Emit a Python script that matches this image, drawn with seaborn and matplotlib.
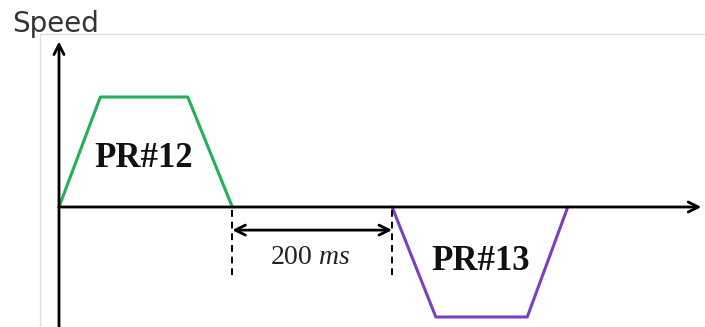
import numpy as np
import pandas as pd
import matplotlib
matplotlib.use("Agg")
import matplotlib.pyplot as plt
import seaborn as sns
from matplotlib.lines import Line2D

# profile data (time in ms, normalised speed)
pr12_time = [0, 52, 162, 218]
pr12_speed = [0, 1, 1, 0]
pr13_time = [419, 474, 589, 640]
pr13_speed = [0, -1, -1, 0]
gap_label = "200"
labels = ["PR#12", "PR#13"]

df = pd.concat([
    pd.DataFrame({"t": pr12_time, "v": pr12_speed, "move": labels[0]}),
    pd.DataFrame({"t": pr13_time, "v": pr13_speed, "move": labels[1]}),
])

sns.set_style("white")
plt.rcParams["mathtext.fontset"] = "custom"
plt.rcParams["mathtext.rm"] = "Liberation Serif"
plt.rcParams["mathtext.it"] = "Liberation Serif:italic"

fig = plt.figure(figsize=(7.05, 3.27), dpi=100)
ax = fig.add_axes([0, 0, 1, 1])

sns.lineplot(data=df, x="t", y="v", hue="move", sort=False, estimator=None,
             palette={labels[0]: "#22b05a", labels[1]: "#7b3fc4"},
             linewidth=2.2, legend=False, ax=ax)

ax.set_xlim(-74.2, 812.6)
ax.set_ylim(-1.091, 1.882)
ax.axis("off")

# axes arrows
ax.annotate("", xy=(808, 0), xytext=(0, 0), annotation_clip=False,
            arrowprops=dict(arrowstyle="->", lw=2.0, color="black",
                            mutation_scale=18, shrinkA=0, shrinkB=0))
ax.annotate("", xy=(0, 1.505), xytext=(0, -1.2), annotation_clip=False,
            arrowprops=dict(arrowstyle="->", lw=2.0, color="black",
                            mutation_scale=18, shrinkA=0, shrinkB=0))

# 200 ms gap
t0, t1 = pr12_time[-1], pr13_time[0]
for t in (t0, t1):
    ax.plot([t, t], [-0.03, -0.66], color="black", lw=1.4, ls=(0, (3.5, 2.5)))
ax.annotate("", xy=(t1, -0.21), xytext=(t0, -0.21),
            arrowprops=dict(arrowstyle="<->", lw=2.0, color="black",
                            mutation_scale=18, shrinkA=0, shrinkB=0))
ax.text((t0 + t1) / 2 - 2, -0.46, gap_label + r" $\mathit{ms}$", ha="center", va="center",
        fontsize=20, family="Liberation Serif", color="#222222")

# labels
ax.text(106, 0.44, labels[0], ha="center", va="center", fontsize=25,
        fontweight="bold", family="Liberation Serif", color="#111111")
ax.text(530, -0.5, labels[1], ha="center", va="center", fontsize=25,
        fontweight="bold", family="Liberation Serif", color="#111111")

# light frame
fig.add_artist(Line2D([40 / 705, 1], [1 - 34 / 327, 1 - 34 / 327], color="#dddddd", lw=1))
fig.add_artist(Line2D([40 / 705, 40 / 705], [0, 1 - 34 / 327], color="#dddddd", lw=1))
fig.text(12 / 705, 1 - 32 / 327, "Speed", fontsize=20, family="DejaVu Sans",
         color="#333333", va="baseline", ha="left")

fig.savefig("out.png", dpi=100)
